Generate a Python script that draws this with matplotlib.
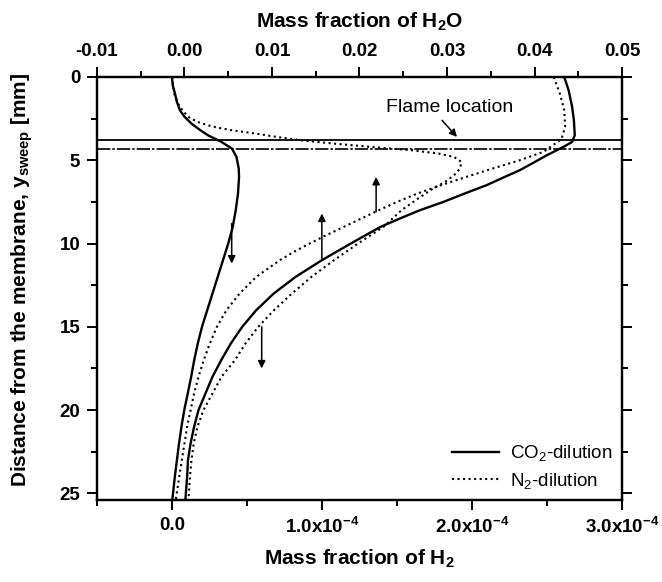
import matplotlib
matplotlib.use('Agg')
import matplotlib.pyplot as plt
from matplotlib.ticker import MultipleLocator, FixedLocator, FixedFormatter, FormatStrFormatter
from matplotlib.lines import Line2D

plt.rcParams['font.family'] = ['Liberation Sans', 'DejaVu Sans']
plt.rcParams['mathtext.fontset'] = 'custom'
plt.rcParams['mathtext.rm'] = 'Liberation Sans'
plt.rcParams['mathtext.bf'] = 'Liberation Sans:bold'
plt.rcParams['mathtext.it'] = 'Liberation Sans:italic'
plt.rcParams['axes.unicode_minus'] = False

SCALE = 1e-4  # H2 values below are in units of 1e-4

# H2 mass fraction, CO2 dilution (bottom axis)
y_h2_co2 = [0, 0.5, 1.0, 1.5, 2.0, 2.4, 2.8, 3.2, 3.5, 3.9, 4.3, 4.8, 5.5, 6.0, 7.0,
            8.0, 9.0, 10.0, 11.0, 12.0, 13.0, 14.0, 15.0, 16.0, 17.0, 18.0, 19.0,
            20.0, 21.0, 22.0, 23.0, 24.0, 25.4]
h2_co2 = [0, 0.005, 0.02, 0.033, 0.053, 0.085, 0.13, 0.19, 0.24, 0.33, 0.40, 0.43,
          0.445, 0.447, 0.44, 0.425, 0.405, 0.375, 0.34, 0.305, 0.27, 0.235, 0.20,
          0.172, 0.148, 0.128, 0.105, 0.082, 0.063, 0.047, 0.033, 0.019, 0.002]

# H2 mass fraction, N2 dilution (bottom axis)
y_h2_n2 = [0, 1.0, 1.6, 2.0, 2.4, 2.7, 2.9, 3.05, 3.2, 3.4, 3.6, 3.8, 4.0, 4.2, 4.4,
           4.6, 4.8, 5.1, 5.5, 5.9, 6.3, 6.7, 7.3, 8.0, 9.0, 10.0, 11.0, 12.0, 13.0,
           14.0, 15.0, 16.0, 17.0, 18.0, 19.0, 20.0, 21.0, 22.0, 23.0, 24.0, 25.4]
h2_n2 = [0, 0.015, 0.04, 0.07, 0.11, 0.17, 0.24, 0.31, 0.40, 0.56, 0.70, 0.86, 1.08,
         1.33, 1.60, 1.78, 1.88, 1.93, 1.92, 1.88, 1.82, 1.74, 1.64, 1.53, 1.41,
         1.24, 1.08, 0.93, 0.80, 0.68, 0.575, 0.49, 0.42, 0.33, 0.27, 0.21, 0.17,
         0.145, 0.13, 0.12, 0.11]

# H2O mass fraction, CO2 dilution (top axis)
y_h2o_co2 = [0, 0.8, 1.8, 2.6, 3.5, 3.9, 4.2, 4.7, 5.2, 5.6, 6.0, 6.5, 7.0, 7.5, 8.0,
             8.5, 9.0, 10.0, 11.0, 12.0, 13.0, 14.0, 15.0, 16.0, 17.0, 18.0, 19.0,
             20.0, 21.0, 22.0, 23.0, 24.0, 25.4]
h2o_co2 = [0.0434, 0.0439, 0.0443, 0.0445, 0.0446, 0.0443, 0.0433, 0.0414, 0.0397,
           0.0383, 0.0366, 0.0345, 0.0320, 0.0296, 0.0269, 0.0246, 0.0224, 0.0190,
           0.0157, 0.0127, 0.0102, 0.0082, 0.0066, 0.0053, 0.0042, 0.0032, 0.0024,
           0.0016, 0.0011, 0.0007, 0.0004, 0.0003, 0.0001]

# H2O mass fraction, N2 dilution (top axis)
y_h2o_n2 = [0, 1.0, 2.0, 3.0, 3.7, 3.95, 4.5, 5.0, 5.5, 6.0, 6.5, 7.0, 7.5, 8.0, 8.5,
            9.0, 9.5, 10.0, 10.5, 11.0, 12.0, 13.0, 14.0, 15.0, 16.0, 17.0, 18.0,
            19.0, 20.0, 21.0, 22.0, 23.0, 24.0, 25.4]
h2o_n2 = [0.0422, 0.0429, 0.0434, 0.0435, 0.0431, 0.0425, 0.0410, 0.0383, 0.0352,
          0.0322, 0.0293, 0.0266, 0.0243, 0.0222, 0.0202, 0.0182, 0.0162, 0.0143,
          0.0125, 0.0109, 0.0082, 0.0063, 0.0048, 0.0037, 0.0029, 0.0022, 0.0016,
          0.0011, 0.0007, 0.0003, 0.0000, -0.0003, -0.0006, -0.0010]

flame_co2 = 3.8
flame_n2 = 4.3

fig = plt.figure(figsize=(6.62, 5.82), dpi=100)
ax = fig.add_axes([0.1465, 0.1409, 0.7931, 0.7268])
ax2 = ax.twiny()

ax.plot([v * SCALE for v in h2_co2], y_h2_co2, color='k', lw=1.7, ls='-')
ax.plot([v * SCALE for v in h2_n2], y_h2_n2, color='k', lw=1.5, ls=':')
ax2.plot(h2o_co2, y_h2o_co2, color='k', lw=1.7, ls='-')
ax2.plot(h2o_n2, y_h2o_n2, color='k', lw=1.5, ls=':')

ax.axhline(flame_co2, color='k', lw=1.3)
ax.axhline(flame_n2, color='k', lw=1.2, ls=(0, (8, 1.2, 1.5, 1.2)))

ax.set_xlim(-0.5e-4, 3.0e-4)
ax2.set_xlim(-0.01, 0.05)
ax.set_ylim(25.4, 0)

ax.xaxis.set_major_locator(FixedLocator([0, 1e-4, 2e-4, 3e-4]))
ax.xaxis.set_major_formatter(FixedFormatter(['0.0', r'1.0x10$^{\mathbf{-4}}$',
                                             r'2.0x10$^{\mathbf{-4}}$',
                                             r'3.0x10$^{\mathbf{-4}}$']))
ax.xaxis.set_minor_locator(MultipleLocator(0.5e-4))
ax2.xaxis.set_major_locator(MultipleLocator(0.01))
ax2.xaxis.set_major_formatter(FormatStrFormatter('%.2f'))
ax2.xaxis.set_minor_locator(MultipleLocator(0.005))
ax.yaxis.set_major_locator(MultipleLocator(5))
ax.yaxis.set_minor_locator(MultipleLocator(2.5))

for a in (ax, ax2):
    for s in a.spines.values():
        s.set_linewidth(1.6)
ax.tick_params(which='both', direction='out', width=1.4, labelsize=13.5, right=True)
ax.tick_params(which='major', length=7, pad=5)
ax.tick_params(which='minor', length=4)
ax2.tick_params(which='both', direction='out', width=1.4, labelsize=13.5)
ax2.tick_params(which='major', length=7, pad=5)
ax2.tick_params(which='minor', length=4)
plt.setp(ax.get_xticklabels() + ax.get_yticklabels() + ax2.get_xticklabels(),
         fontweight='bold')

ax.set_xlabel(r'Mass fraction of H$_\mathbf{2}$', fontsize=15, fontweight='bold')
ax2.set_xlabel(r'Mass fraction of H$_\mathbf{2}$O', fontsize=15, fontweight='bold')
ax.set_ylabel(r'Distance from the membrane, y$_\mathbf{sweep}$ [mm]', fontsize=15,
              fontweight='bold')
ax.xaxis.set_label_coords(0.5, -0.112)
ax2.xaxis.set_label_coords(0.5, 1.116)
ax.yaxis.set_label_coords(-0.118, 0.52)

arrow = dict(arrowstyle='-|>', color='k', lw=1.1, mutation_scale=11,
             shrinkA=0, shrinkB=0)
# arrows pointing to the axis each curve belongs to
ax.annotate('', xy=(0.398e-4, 11.2), xytext=(0.398e-4, 8.8), arrowprops=arrow)
ax.annotate('', xy=(0.598e-4, 17.5), xytext=(0.598e-4, 15.0), arrowprops=arrow)
ax2.annotate('', xy=(0.0157, 8.2), xytext=(0.0157, 11.0), arrowprops=arrow)
ax2.annotate('', xy=(0.0219, 6.0), xytext=(0.0219, 8.1), arrowprops=arrow)

ax.text(1.85e-4, 1.86, 'Flame location', fontsize=14, ha='center', va='center')
ax.annotate('', xy=(1.90e-4, 3.6), xytext=(1.80e-4, 2.6), arrowprops=arrow)

handles = [Line2D([], [], color='k', lw=1.7, ls='-'),
           Line2D([], [], color='k', lw=1.5, ls=':')]
labels = [r'CO$_\mathrm{2}$-dilution', r'N$_\mathrm{2}$-dilution']
ax2.legend(handles, labels, loc='lower right', frameon=False,
           prop={'size': 13.5}, handlelength=2.5, handletextpad=0.6,
           labelspacing=0.4, borderaxespad=0.1)

fig.savefig('out.png', dpi=100)
